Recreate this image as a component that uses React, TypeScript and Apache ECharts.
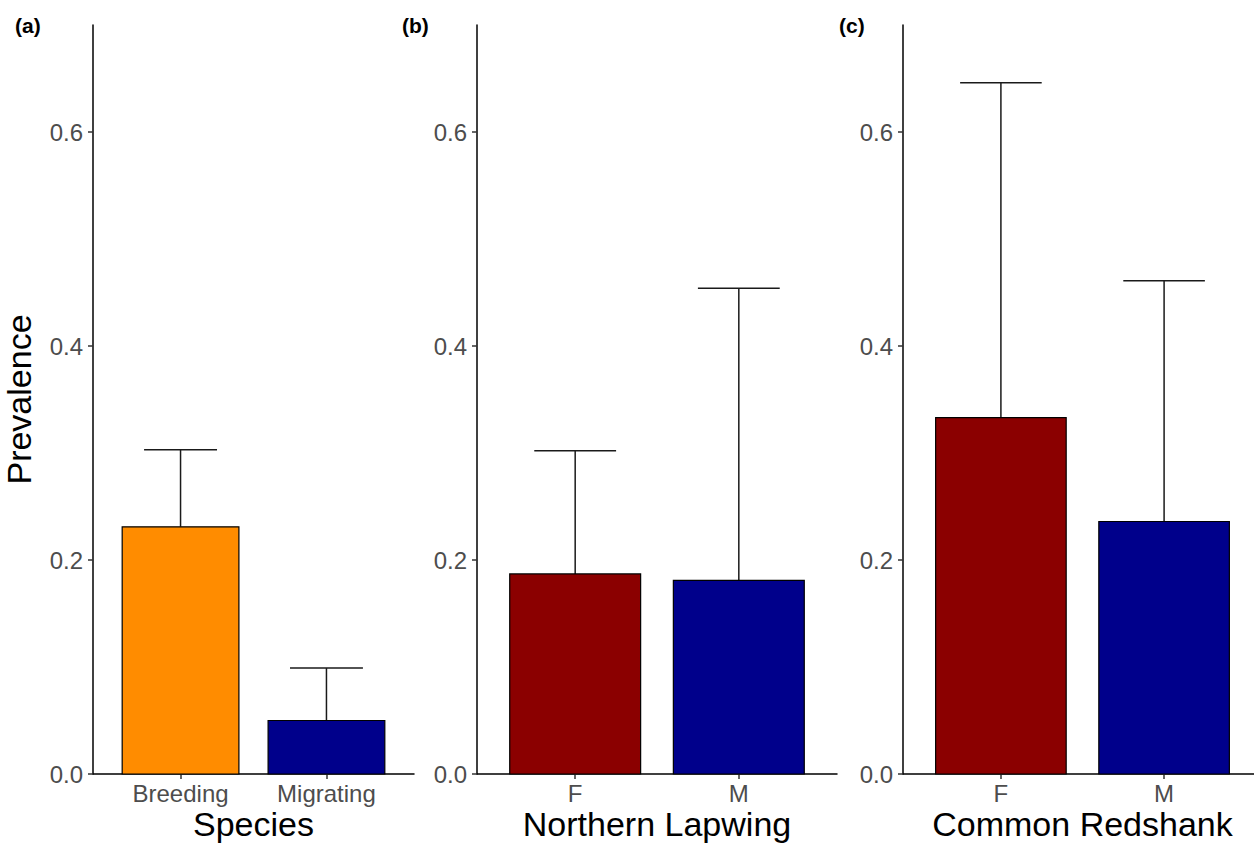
import React, { useEffect, useRef } from "react";
import * as echarts from "echarts";

const panelLabels = ["(a)", "(b)", "(c)"];
const xTitles = ["Species", "Northern Lapwing", "Common Redshank"];
const yTitle = "Prevalence";
const categoriesA = ["Breeding", "Migrating"];
const categoriesB = ["F", "M"];
const categoriesC = ["F", "M"];
const prevalenceA = [0.231, 0.05];
const upperA = [0.303, 0.099];
const prevalenceB = [0.187, 0.181];
const upperB = [0.302, 0.454];
const prevalenceC = [0.333, 0.236];
const upperC = [0.646, 0.461];
const colorsA = ["#FF8C00", "#00008B"];
const colorsB = ["#8B0000", "#00008B"];
const colorsC = ["#8B0000", "#00008B"];
const yTicks = [0, 0.2, 0.4, 0.6];

const FONT = "'Liberation Sans', Arial, sans-serif";

const panels = [
  { cats: categoriesA, vals: prevalenceA, up: upperA, colors: colorsA, left: 93, width: 321, labelX: 15 },
  { cats: categoriesB, vals: prevalenceB, up: upperB, colors: colorsB, left: 477, width: 360, labelX: 402 },
  { cats: categoriesC, vals: prevalenceC, up: upperC, colors: colorsC, left: 903, width: 359, labelX: 839 },
];

export default function App() {
  const ref = useRef<HTMLDivElement>(null);
  useEffect(() => {
    if (!ref.current) return;
    const chart = echarts.init(ref.current, null, { renderer: "svg" });
    const grid: any[] = [];
    const xAxis: any[] = [];
    const yAxis: any[] = [];
    const series: any[] = [];
    const title: any[] = [];
    panels.forEach((p, i) => {
      grid.push({ left: p.left, top: 25, width: p.width, height: 749, outerBoundsMode: "none", containLabel: false });
      const catVals = p.cats.map((_, k) => k + 1);
      xAxis.push({
        type: "value",
        gridIndex: i,
        min: 0.4,
        max: p.cats.length + 0.6,
        name: xTitles[i],
        nameLocation: "middle",
        nameGap: 50,
        nameMoveOverlap: false,
        nameTextStyle: { fontFamily: FONT, fontSize: 34, lineHeight: 35, color: "#000", verticalAlign: "middle" },
        axisLine: { show: true, lineStyle: { color: "#000", width: 1.5 } },
        axisTick: { show: true, customValues: catVals, length: 5, lineStyle: { color: "#333", width: 1.5 } },
        axisLabel: {
          customValues: catVals,
          formatter: (v: number) => p.cats[Math.round(v) - 1] ?? "",
          fontFamily: FONT,
          fontSize: 24,
          lineHeight: 24,
          color: "#4D4D4D",
          margin: 7,
        },
        splitLine: { show: false },
      });
      yAxis.push({
        type: "value",
        gridIndex: i,
        min: 0,
        max: 0.7,
        name: i === 0 ? yTitle : "",
        nameLocation: "middle",
        nameGap: 57,
        nameMoveOverlap: false,
        nameTextStyle: { fontFamily: FONT, fontSize: 34, color: "#000" },
        axisLine: { show: true, lineStyle: { color: "#000", width: 1.5 } },
        axisTick: { show: true, customValues: yTicks, length: 5, lineStyle: { color: "#333", width: 1.5 } },
        axisLabel: {
          customValues: yTicks,
          formatter: (v: number) => v.toFixed(1),
          fontFamily: FONT,
          fontSize: 24,
          color: "#4D4D4D",
          margin: 10,
        },
        splitLine: { show: false },
      });
      const barData = p.vals.map((v, k) => [k + 1, v]);
      const errData = p.vals.map((v, k) => [k + 1, v, p.up[k]]);
      series.push({
        type: "custom",
        xAxisIndex: i,
        yAxisIndex: i,
        data: errData,
        z: 1,
        renderItem: (params: any, api: any) => {
          const x = api.value(0);
          const v = api.value(1);
          const u = api.value(2);
          const a = api.coord([x, v]);
          const b = api.coord([x, u]);
          const c1 = api.coord([x - 0.25, u]);
          const c2 = api.coord([x + 0.25, u]);
          const st = { stroke: "#1a1a1a", lineWidth: 1.5 };
          return {
            type: "group",
            children: [
              { type: "line", shape: { x1: a[0], y1: a[1], x2: b[0], y2: b[1] }, style: st },
              { type: "line", shape: { x1: c1[0], y1: c1[1], x2: c2[0], y2: c2[1] }, style: st },
            ],
          };
        },
      });
      series.push({
        type: "custom",
        xAxisIndex: i,
        yAxisIndex: i,
        data: barData,
        z: 2,
        renderItem: (params: any, api: any) => {
          const x = api.value(0);
          const v = api.value(1);
          const p1 = api.coord([x - 0.4, v]);
          const p2 = api.coord([x + 0.4, 0]);
          return {
            type: "rect",
            shape: { x: p1[0], y: p1[1], width: p2[0] - p1[0], height: p2[1] - p1[1] },
            style: { fill: p.colors[params.dataIndex], stroke: "#000", lineWidth: 1.2 },
          };
        },
      });
      title.push({
        text: panelLabels[i],
        left: p.labelX,
        top: 15,
        padding: 0,
        textStyle: { fontFamily: FONT, fontSize: 21, fontWeight: "bold", color: "#000" },
      });
    });
    chart.setOption({
      animation: false,
      backgroundColor: "#fff",
      title,
      grid,
      xAxis,
      yAxis,
      series,
    });
    return () => chart.dispose();
  }, []);
  return (
    <div
      ref={ref}
      style={{ position: "fixed", left: 0, top: 0, width: 1254, height: 844 }}
    />
  );
}
